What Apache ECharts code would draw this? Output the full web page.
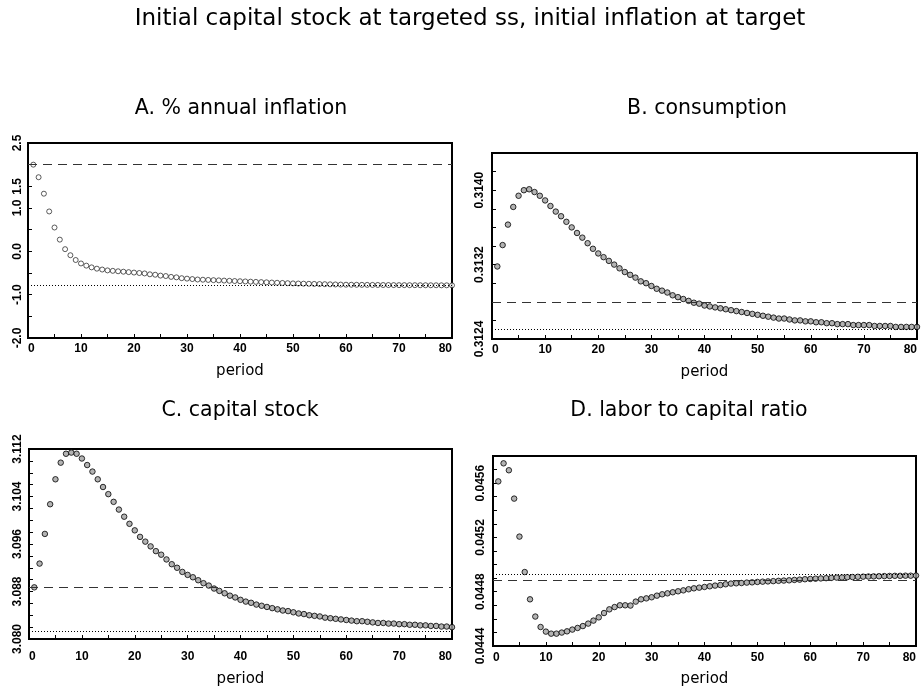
<!DOCTYPE html>
<html>
<head>
<meta charset="utf-8">
<script src="https://cdn.jsdelivr.net/npm/echarts@6/dist/echarts.min.js"></script>
<style>
html, body { margin: 0; padding: 0; background: #fff; }
#chart { width: 924px; height: 690px; }
</style>
</head>
<body>
<div id="chart"></div>
<script>
// 数据：period 1..80
var inflation = [
  2.00, 1.71, 1.33, 0.92, 0.55, 0.27, 0.05, -0.09, -0.20, -0.28,
  -0.33, -0.37, -0.40, -0.42, -0.44, -0.45, -0.46, -0.47, -0.48, -0.49,
  -0.50, -0.51, -0.53, -0.54, -0.56, -0.57, -0.59, -0.60, -0.62, -0.63,
  -0.64, -0.65, -0.655, -0.66, -0.665, -0.67, -0.675, -0.68, -0.685, -0.69,
  -0.695, -0.70, -0.705, -0.71, -0.715, -0.72, -0.725, -0.73, -0.735, -0.74,
  -0.743, -0.746, -0.749, -0.752, -0.755, -0.758, -0.761, -0.764, -0.767, -0.77,
  -0.771, -0.772, -0.773, -0.774, -0.775, -0.776, -0.777, -0.778, -0.779, -0.78,
  -0.780, -0.781, -0.781, -0.782, -0.782, -0.783, -0.783, -0.784, -0.784, -0.785
];
var consumption = [
  0.31318, 0.31341, 0.31363, 0.31382, 0.31394, 0.31400, 0.31401, 0.31398, 0.31394, 0.31389,
  0.31383, 0.31377, 0.31372, 0.31366, 0.31360, 0.31354, 0.31349, 0.31343, 0.31337, 0.31332,
  0.31328, 0.31324, 0.31320, 0.31316, 0.31312, 0.31309, 0.31306, 0.31302, 0.31300, 0.31297,
  0.31294, 0.31292, 0.31290, 0.31287, 0.31285, 0.31283, 0.31281, 0.31279, 0.31278, 0.31276,
  0.31275, 0.31274, 0.31273, 0.31272, 0.31271, 0.31270, 0.31269, 0.31268, 0.31267, 0.31266,
  0.31265, 0.31264, 0.31263, 0.31262, 0.31262, 0.31261, 0.31260, 0.31260, 0.31259, 0.31259,
  0.31258, 0.31258, 0.31257, 0.31257, 0.31256, 0.31256, 0.31256, 0.31255, 0.31255, 0.31255,
  0.31255, 0.31254, 0.31254, 0.31254, 0.31254, 0.31253, 0.31253, 0.31253, 0.31253, 0.31253
];
var capital = [
  3.0887, 3.0927, 3.0977, 3.1027, 3.1069, 3.1097, 3.1112, 3.1114, 3.1112, 3.1104,
  3.1093, 3.1082, 3.1069, 3.1056, 3.1044, 3.1031, 3.1018, 3.1006, 3.0994, 3.0983,
  3.0972, 3.0964, 3.0956, 3.0948, 3.0942, 3.0934, 3.0926, 3.0920, 3.0913, 3.0908,
  3.0904, 3.0899, 3.0894, 3.0890, 3.0885, 3.0881, 3.0877, 3.0873, 3.0870, 3.0866,
  3.0863, 3.0861, 3.0858, 3.0856, 3.0854, 3.0852, 3.0850, 3.0848, 3.0847, 3.0845,
  3.0843, 3.0842, 3.0840, 3.0839, 3.0838, 3.0836, 3.0835, 3.0834, 3.0833, 3.0832,
  3.0831, 3.0830, 3.0830, 3.0829, 3.0828, 3.0827, 3.0827, 3.0826, 3.0826, 3.0825,
  3.0825, 3.0824, 3.0824, 3.0823, 3.0823, 3.0822, 3.0822, 3.0821, 3.0821, 3.0820
];
var laborCapital = [
  0.045613, 0.045746, 0.045695, 0.045486, 0.045206, 0.044945, 0.044744, 0.044617, 0.044540, 0.044506,
  0.044491, 0.044491, 0.044499, 0.044508, 0.044521, 0.044533, 0.044547, 0.044565, 0.044587, 0.044611,
  0.044643, 0.044670, 0.044687, 0.044700, 0.044700, 0.044698, 0.044727, 0.044744, 0.044751, 0.044759,
  0.044771, 0.044781, 0.044788, 0.044796, 0.044803, 0.044810, 0.044818, 0.044825, 0.044830, 0.044835,
  0.044840, 0.044845, 0.044849, 0.044855, 0.044860, 0.044862, 0.044864, 0.044867, 0.044869, 0.044872,
  0.044874, 0.044876, 0.044878, 0.044880, 0.044882, 0.044884, 0.044887, 0.044889, 0.044892, 0.044894,
  0.044896, 0.044898, 0.044900, 0.044902, 0.044904, 0.044905, 0.044907, 0.044908, 0.044910, 0.044911,
  0.044912, 0.044913, 0.044914, 0.044915, 0.044916, 0.044917, 0.044917, 0.044918, 0.044918, 0.044919
];

// 参考线：[虚线(dashed), 点线(dotted)]
var refInflation = [2.0, -0.79];
var refConsumption = [0.312795, 0.31250];
var refCapital = [3.0888, 3.08129];
var refLaborCapital = [0.044884, 0.044928];

// 刻度标签
var xLabels = [0, 10, 20, 30, 40, 50, 60, 70, 80];
var yLabelsA = [2.5, 1.5, 1.0, 0.0, -1.0, -2.0];
var yLabelsB = [0.3124, 0.3132, 0.3140];
var yLabelsC = [3.080, 3.088, 3.096, 3.104, 3.112];
var yLabelsD = [0.0444, 0.0448, 0.0452, 0.0456];

var mainTitle = 'Initial capital stock at targeted ss, initial inflation at target';
var panelTitles = ['A. % annual inflation', 'B. consumption', 'C. capital stock', 'D. labor to capital ratio'];

var chart = echarts.init(document.getElementById('chart'), null, { renderer: 'canvas' });

var tickFont = { fontFamily: 'Liberation Sans', fontWeight: 'bold', fontSize: 12, color: '#000' };
var titleFont = { fontFamily: 'DejaVu Sans', fontWeight: 'normal', fontSize: 20.5, color: '#000' };

// 四个子图的位置
var grids = [
  { left: 28, top: 143, width: 424, height: 195 },
  { left: 492, top: 153, width: 425, height: 186 },
  { left: 29, top: 449, width: 423, height: 190 },
  { left: 493, top: 456, width: 423, height: 190 }
];
var yRanges = [
  { min: -2.0, max: 2.5, interval: 0.5, labels: yLabelsA, digits: 1 },
  { min: 0.3124, max: 0.3144, interval: 0.0002, labels: yLabelsB, digits: 4 },
  { min: 3.080, max: 3.112, interval: 0.002, labels: yLabelsC, digits: 3 },
  { min: 0.0444, max: 0.0458, interval: 0.0001, labels: yLabelsD, digits: 4 }
];
var values = [inflation, consumption, capital, laborCapital];
var refs = [refInflation, refConsumption, refCapital, refLaborCapital];
var xLabelMargin = [5, 5, 12, 6];
var xNameGap = [26, 26, 33, 26];
var yLabelMargin = [4, 6, 5, 6];

var option = {
  animation: false,
  backgroundColor: '#fff',
  title: [{
    text: mainTitle, left: 470, top: 8, textAlign: 'center', padding: 0,
    textStyle: { fontFamily: 'DejaVu Sans', fontWeight: 'normal', fontSize: 23, color: '#000' }
  }],
  grid: [],
  xAxis: [],
  yAxis: [],
  series: []
};

var titlePos = [[241, 98], [707, 98], [240, 400], [689, 400]];

for (var i = 0; i < 4; i++) {
  option.title.push({
    text: panelTitles[i], left: titlePos[i][0], top: titlePos[i][1], textAlign: 'center', padding: 0,
    textStyle: titleFont
  });
  option.grid.push(Object.assign({
    show: true, borderColor: '#000', borderWidth: 2, backgroundColor: '#fff',
    containLabel: false, outerBoundsMode: 'none'
  }, grids[i]));
  option.xAxis.push({
    gridIndex: i, type: 'value', min: 0, max: 80, interval: 5,
    name: 'period', nameLocation: 'middle', nameGap: xNameGap[i],
    nameTextStyle: { fontFamily: 'DejaVu Sans', fontSize: 15, color: '#000' },
    axisLine: { show: true, onZero: false, lineStyle: { color: '#000', width: 2 } },
    axisTick: { show: true, inside: true, length: 4, lineStyle: { color: '#000', width: 1 } },
    axisLabel: Object.assign({
      customValues: xLabels, margin: xLabelMargin[i],
      alignMinLabel: 'left', alignMaxLabel: 'right'
    }, tickFont),
    splitLine: { show: false }
  });
  (function (r) {
    option.yAxis.push({
      gridIndex: i, type: 'value', min: r.min, max: r.max, interval: r.interval,
      axisLine: { show: true, onZero: false, lineStyle: { color: '#000', width: 2 } },
      axisTick: { show: true, inside: true, length: 4, lineStyle: { color: '#000', width: 1 } },
      axisLabel: Object.assign({
        customValues: r.labels, rotate: 90, margin: yLabelMargin[i],
        formatter: function (v) { return v.toFixed(r.digits); }
      }, tickFont),
      splitLine: { show: false }
    });
  })(yRanges[i]);

  var pts = values[i].map(function (v, k) { return [k + 1, v]; });
  var isA = i === 0;
  option.series.push({
    type: 'scatter', xAxisIndex: i, yAxisIndex: i,
    data: pts,
    symbol: 'circle',
    symbolSize: isA ? 5 : 5.5,
    itemStyle: isA ? { color: '#fff', borderColor: '#000', borderWidth: 0.8 } : { color: '#a0a0a0', borderColor: '#000', borderWidth: 1 },
    markLine: {
      silent: true, symbol: ['none', 'none'], label: { show: false }, animation: false,
      precision: 8,
      data: [
        { yAxis: refs[i][0], lineStyle: { color: '#333', width: 1, type: [9, 6] } },
        { yAxis: refs[i][1], lineStyle: { color: '#000', width: 1, type: [1, 2] } }
      ]
    }
  });
}

chart.setOption(option);
</script>
</body>
</html>
